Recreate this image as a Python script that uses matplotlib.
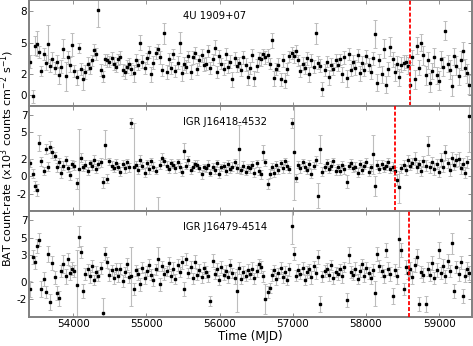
import numpy as np
import matplotlib
matplotlib.use("Agg")
import matplotlib.pyplot as plt

plt.rcParams["font.family"] = "DejaVu Sans"
plt.rcParams["axes.unicode_minus"] = False

# 30-day bins (MJD)
mjd = np.arange(53415, 59416, 30)

names = ["4U 1909+07", "IGR J16418-4532", "IGR J16479-4514"]
outburst_mjd = [58600, 58400, 58590]  # red dashed markers

# 4U 1909+07
rate_1909 = [
    3.2, -0.1, 4.7, 4.9, 4.1, 2.3, 3.9, 3.1, 4.9, 2.8, 3.4, 2.6, 3.2, 1.9, 2.7, 4.4, 1.8, 3.6, 2.9, 4.8,
    2.3, 1.7, 4.5, 2.5, 1.5, 2.2, 3.0, 2.6, 3.3, 4.3, 3.9, 8.1, 2.4, 1.8, 3.4, 3.3, 3.2, 3.5, 3.0, 2.7,
    3.4, 3.6, 2.4, 2.2, 2.7, 3.0, 2.5, 2.1, 3.3, 2.9, 5.0, 3.2, 2.6, 3.5, 4.1, 2.0, 3.1, 4.0, 4.4, 3.6,
    2.4, 5.9, 2.2, 3.4, 2.6, 3.9, 2.3, 3.1, 5.0, 2.1, 3.0, 2.7, 3.7, 2.2, 3.6, 4.0, 2.5, 3.3, 3.8, 2.9,
    3.0, 4.2, 2.6, 3.4, 4.5, 2.2, 3.7, 3.0, 2.5, 3.9, 2.7, 3.2, 1.5, 3.5, 2.8, 3.1, 2.4, 3.6, 2.9, 1.7,
    2.6, 3.8, 1.6, 2.8, 3.5, 3.4, 3.9, 3.6, 3.8, 3.0, 5.2, 1.6, 2.5, 2.9, 1.5, 3.3, 1.4, 2.5, 3.7, 4.0,
    3.7, 4.2, 3.3, 2.3, 3.0, 2.6, 3.5, 2.0, 3.3, 2.7, 5.9, 3.1, 2.8, 0.6, 2.4, 3.2, 1.7, 2.9, 2.5, 3.3,
    2.9, 3.4, 2.0, 3.6, 1.6, 3.9, 2.4, 3.2, 2.6, 3.8, 2.1, 3.1, 2.4, 3.7, 2.9, 2.2, 3.5, 5.8, 1.2, 3.3,
    2.0, 4.4, 1.0, 2.5, 4.6, 3.4, 2.2, 3.0, 1.7, 2.9, 3.1, 3.2, 2.8, 1.0, 3.6, 1.5, 4.7, 2.6, 5.0, 3.8,
    1.9, 3.3, 1.2, 2.3, 3.6, 1.9, 1.4, 3.4, 2.7, 6.1, 3.0, 2.4, 0.9, 3.7, 2.8, 1.8, 3.3, 4.2, 2.6, 2.1,
    1.0,
]
err_1909 = [
    0.6, 0.6, 0.9, 1.2, 0.6, 0.5, 0.6, 0.7, 1.8, 0.6, 0.7, 0.6, 0.6, 0.8, 0.6, 0.9, 1.4, 0.6, 0.7, 1.1,
    0.6, 0.7, 0.5, 0.6, 1.0, 0.7, 0.6, 0.6, 0.5, 0.6, 0.6, 1.6, 0.6, 0.5, 0.5, 0.6, 0.5, 0.6, 0.6, 0.5,
    0.5, 0.6, 0.6, 0.7, 0.6, 0.5, 0.6, 0.8, 0.6, 0.5, 0.7, 0.6, 0.6, 0.5, 0.6, 0.7, 0.6, 0.6, 0.5, 0.6,
    0.6, 1.0, 0.7, 0.6, 0.6, 0.5, 0.6, 0.6, 1.0, 0.7, 0.6, 0.6, 0.5, 0.7, 0.6, 0.6, 0.6, 0.5, 0.6, 0.6,
    0.6, 0.6, 0.6, 0.5, 0.7, 0.6, 0.6, 0.5, 0.6, 0.6, 0.6, 0.6, 0.7, 0.6, 0.6, 0.5, 0.6, 0.6, 0.6, 0.7,
    0.6, 0.6, 0.7, 0.6, 0.6, 0.6, 0.5, 0.6, 0.6, 0.5, 0.7, 0.7, 0.6, 0.6, 0.6, 0.6, 0.7, 0.6, 0.5, 0.6,
    0.6, 0.6, 0.5, 0.6, 0.6, 0.6, 0.6, 0.7, 0.6, 0.6, 1.0, 0.6, 0.6, 0.7, 0.6, 0.5, 0.7, 0.6, 0.6, 0.6,
    0.6, 0.5, 0.7, 0.6, 0.8, 0.6, 0.6, 0.6, 0.7, 0.6, 0.7, 0.6, 0.6, 0.6, 0.6, 0.7, 0.6, 1.3, 0.8, 0.6,
    0.8, 0.9, 0.8, 0.7, 0.9, 0.7, 0.8, 0.7, 0.8, 0.7, 0.7, 0.6, 0.8, 2.2, 0.7, 0.9, 0.8, 0.7, 0.8, 0.9,
    0.9, 0.8, 0.9, 0.8, 0.9, 0.8, 0.9, 0.8, 0.9, 0.9, 0.8, 0.9, 1.0, 0.8, 0.9, 0.8, 0.9, 0.9, 0.8, 0.9,
    0.9,
]

# IGR J16418-4532
rate_16418 = [
    1.5, 0.3, -1.1, -1.6, 3.8, 1.7, 0.6, 3.1, 1.1, 3.3, 2.7, 2.3, 1.0, 1.6, 0.4, 1.2, 1.8, 0.9, 0.1, 1.4,
    1.2, -0.8, 0.8, 2.1, 1.0, 1.3, 0.6, 1.5, 1.2, 1.9, 0.8, 1.4, 1.6, -0.7, 3.6, -0.3, 1.7, 1.2, 0.9, 1.5,
    1.1, 0.5, 1.4, 0.9, 1.6, 1.0, 6.05, 1.0, 1.3, 0.7, 1.9, 1.2, 0.4, 1.5, 0.8, 1.7, 1.1, 0.6, -4.6, 1.3,
    2.1, 1.7, 1.2, 0.8, 1.5, 1.3, 0.9, 1.6, 1.0, 0.5, 2.9, 1.2, 1.8, 0.7, 1.1, 1.4, 1.3, 0.9, 0.2, 1.0,
    0.9, 1.3, 0.4, 1.1, 0.7, 1.5, 0.3, 1.0, 1.2, 0.6, 1.4, 0.8, 1.1, 1.6, 0.9, 3.1, 0.7, 1.2, 0.5, 1.0,
    0.9, 1.3, 0.4, 1.5, 0.6, 0.2, 2.7, 1.6, -0.9, 0.3, 1.1, 0.4, 1.3, 0.7, 1.5, 0.9, 1.7, 1.2, 0.8, 6.05,
    2.7, -0.2, 1.3, 0.9, 1.6, 1.1, 0.7, 1.4, 0.3, 1.2, 1.8, -2.2, 3.1, 0.5, 1.0, 1.5, 0.8, 1.2, 1.7, 0.6,
    1.0, 0.6, 1.3, 0.8, -0.6, 1.2, 1.5, 0.9, 1.1, 0.4, 1.4, 0.7, 1.2, 1.6, 0.5, 1.0, 2.5, -1.1, 1.3, 0.8,
    1.4, 0.9, 1.2, 1.6, 0.8, 1.1, 0.6, -0.4, -1.2, 0.9, 1.3, 0.7, 1.8, 1.2, 1.5, 2.0, 1.0, 1.4, 0.6, 1.7,
    1.2, 3.5, 1.0, 1.6, 0.8, 1.4, 0.5, 1.9, 1.1, 2.7, 1.5, 0.7, 2.1, 1.3, 1.8, 2.0, 0.9, 1.4, 0.4, 1.6,
    6.8,
]
err_16418 = [
    0.5, 0.5, 0.6, 0.7, 0.9, 0.5, 0.5, 0.6, 0.5, 0.7, 0.6, 0.5, 0.5, 0.5, 0.6, 0.5, 0.5, 0.4, 0.5, 0.5,
    0.5, 0.6, 4.6, 0.5, 0.4, 0.5, 0.5, 0.4, 0.5, 0.5, 0.4, 0.5, 0.5, 0.6, 1.6, 0.5, 0.4, 0.5, 0.4, 0.5,
    0.4, 0.5, 0.4, 0.5, 0.4, 0.5, 0.6, 5.0, 0.4, 0.5, 0.5, 0.4, 0.5, 0.4, 0.5, 0.4, 0.5, 0.4, 2.2, 0.5,
    0.5, 0.4, 0.5, 0.4, 0.5, 0.4, 0.5, 0.4, 0.5, 0.5, 0.9, 0.4, 0.5, 0.4, 0.5, 0.4, 0.5, 0.4, 0.5, 0.4,
    0.4, 0.5, 0.4, 0.4, 0.5, 0.4, 0.5, 0.4, 0.4, 0.5, 0.4, 0.4, 0.5, 0.4, 0.5, 2.7, 0.4, 0.5, 0.4, 0.4,
    0.5, 0.4, 0.5, 0.4, 0.5, 0.5, 0.8, 0.4, 0.6, 0.5, 0.4, 0.5, 0.4, 0.5, 0.4, 0.5, 0.4, 0.5, 0.4, 0.6,
    5.4, 0.5, 0.4, 0.5, 0.4, 0.5, 0.4, 0.5, 0.5, 0.4, 0.5, 1.4, 1.6, 0.5, 0.4, 0.5, 0.4, 0.5, 0.4, 0.5,
    0.4, 0.5, 0.4, 0.5, 0.7, 0.4, 0.5, 0.4, 0.5, 0.5, 0.4, 0.5, 0.4, 0.5, 0.5, 0.4, 2.2, 1.1, 0.5, 0.4,
    0.5, 0.4, 0.5, 0.5, 0.4, 0.5, 0.5, 0.6, 1.8, 0.5, 0.5, 0.6, 0.6, 0.5, 0.6, 0.7, 0.6, 0.5, 0.6, 0.6,
    0.6, 1.1, 0.6, 0.6, 0.7, 0.6, 0.6, 0.7, 0.6, 0.8, 0.6, 0.7, 0.7, 0.6, 0.7, 0.8, 0.6, 0.7, 0.6, 0.7,
    4.1,
]

# IGR J16479-4514
rate_16479 = [
    -0.8, 2.8, 2.2, 4.1, 4.8, -0.8, 0.3, -1.2, 3.2, -2.3, 2.1, 0.5, -1.3, -1.9, 1.2, 2.0, 0.6, 2.6, 1.0, 1.5,
    1.2, -0.4, 5.1, 3.4, -1.1, 0.9, 1.4, 0.6, 1.8, 0.2, 1.1, 0.7, 1.6, -3.5, 3.2, 2.2, 0.8, 1.3, 0.4, 1.5,
    0.7, 1.5, 0.1, 1.1, 2.0, 0.5, 0.6, -0.8, 1.3, 0.9, -0.3, 1.6, 0.4, 1.2, 1.9, 0.8, 0.2, 1.4, 2.6, -0.3,
    1.8, 0.9, 1.2, 2.1, 0.6, 1.5, 0.3, 1.9, 1.1, 2.2, -0.8, 2.6, 1.0, 1.7, 0.4, 2.3, 0.8, 1.3, 0.5, 1.6,
    1.1, 0.6, -2.2, 2.4, 0.9, 1.4, 0.2, 1.7, 0.8, 1.2, 0.5, 1.9, 1.0, 0.4, -1.0, 1.6, 0.3, 1.1, 0.7, 1.3,
    0.9, 1.5, 0.4, 1.2, 2.0, 1.7, 0.6, -2.0, -1.2, -0.7, 0.8, 1.3, 0.3, 1.0, 1.6, 0.5, 1.1, 0.2, 1.4, 6.3,
    3.2, 0.7, 1.3, 0.9, 1.6, 0.2, 1.1, 1.4, 0.5, 1.8, 1.0, 2.8, -2.5, 0.6, 1.2, 1.5, 0.8, 1.9, 0.4, 1.1,
    0.9, 1.4, 0.6, 1.7, -2.1, 3.0, 1.1, 0.8, 1.5, 0.3, 1.2, 2.0, 0.7, 1.6, 1.0, 0.4, 1.3, -1.3, 3.2, 1.8,
    1.2, 0.7, 3.6, 1.5, 0.9, -1.6, 1.3, 0.6, 4.9, 3.6, -0.8, 1.7, 1.0, 1.4, 0.5, 1.9, 2.8, -2.5, 1.1, 0.8,
    -2.5, 1.5, 0.8, 2.1, 0.4, 1.3, 3.6, 1.0, 1.8, 0.6, 2.4, 1.2, 4.4, -1.1, 1.7, 0.9, 2.2, -1.6, 0.7, 1.4,
    1.0,
]
err_16479 = [
    0.9, 0.8, 0.7, 0.8, 0.7, 0.9, 0.8, 0.7, 0.9, 0.9, 0.8, 0.7, 0.8, 0.8, 0.7, 1.0, 0.8, 0.7, 0.8, 0.7,
    0.7, 4.0, 1.2, 0.7, 0.8, 0.7, 0.6, 0.7, 0.7, 0.6, 0.7, 0.6, 0.7, 1.7, 0.7, 0.6, 0.7, 0.6, 0.7, 0.6,
    0.7, 0.6, 0.7, 0.6, 0.7, 0.6, 3.3, 0.7, 0.6, 0.7, 0.7, 0.6, 0.7, 0.6, 0.7, 0.6, 0.7, 0.6, 1.4, 0.7,
    0.6, 0.7, 0.6, 0.7, 0.6, 0.7, 0.6, 0.7, 0.6, 0.7, 0.8, 0.7, 0.6, 0.7, 0.6, 0.7, 0.6, 0.7, 0.6, 0.7,
    0.7, 0.6, 0.6, 0.7, 0.6, 0.7, 0.6, 0.7, 0.6, 0.7, 0.6, 0.7, 0.6, 0.7, 2.4, 0.7, 0.6, 0.7, 0.6, 0.7,
    0.6, 0.7, 0.6, 0.7, 0.6, 0.7, 0.6, 1.7, 0.7, 0.6, 0.7, 0.6, 0.7, 0.6, 0.7, 0.6, 0.7, 0.6, 0.7, 2.0,
    0.7, 0.6, 0.7, 0.6, 0.7, 0.6, 0.7, 0.6, 0.7, 0.6, 0.7, 0.8, 0.9, 0.6, 0.7, 0.6, 0.7, 0.6, 0.7, 0.6,
    0.7, 0.6, 0.7, 0.6, 0.8, 0.9, 0.7, 0.6, 0.7, 0.6, 0.7, 0.6, 0.7, 0.6, 0.7, 0.6, 0.7, 1.4, 0.8, 0.7,
    0.7, 0.8, 0.8, 0.7, 0.8, 0.9, 0.7, 0.8, 3.2, 0.8, 0.7, 0.8, 0.7, 0.8, 0.7, 0.8, 0.9, 0.8, 0.7, 0.8,
    0.9, 0.8, 0.7, 0.8, 0.7, 0.8, 0.9, 0.7, 0.8, 0.7, 0.8, 0.7, 1.2, 0.8, 0.7, 0.8, 0.7, 0.8, 0.7, 0.8,
    0.8,
]

rates = [rate_1909, rate_16418, rate_16479]
errs = [err_1909, err_16418, err_16479]
ylims = [(-1, 9), (-4, 8), (-4, 8)]
yticks = [[0, 2, 5, 8], [-2, 0, 2, 5, 7], [-2, 0, 3, 5, 7]]

fig = plt.figure(figsize=(4.73, 3.46), dpi=100)
gs = fig.add_gridspec(3, 1, left=0.062, right=0.998, top=0.999, bottom=0.084, hspace=0)

frame_col = "#808080"
axes = []
for i in range(3):
    ax = fig.add_subplot(gs[i], sharex=axes[0] if axes else None)
    axes.append(ax)
    ax.errorbar(mjd, rates[i], yerr=errs[i], fmt="s", ms=1.5, mfc="black", mec="black",
                ecolor="#bdbdbd", elinewidth=0.8, capsize=1.5, capthick=0.7, zorder=2)
    ax.axvline(outburst_mjd[i], color="red", lw=1.3, ls=(0, (2.2, 1.1)), zorder=3)
    ax.set_ylim(*ylims[i])
    ax.set_yticks(yticks[i])
    ax.text(0.347, 0.85, names[i], transform=ax.transAxes, ha="left", va="center", fontsize=7.2)
    for s in ax.spines.values():
        s.set_color(frame_col)
        s.set_linewidth(1.4)
    ax.tick_params(direction="in", top=True, right=True, length=3, width=0.6,
                   color=frame_col, labelsize=7.5, pad=1.5)
    if i < 2:
        ax.tick_params(labelbottom=False)

axes[0].set_xlim(53400, 59450)
axes[0].set_xticks([54000, 55000, 56000, 57000, 58000, 59000])
axes[2].set_xlabel("Time (MJD)", fontsize=8.5, labelpad=1)
fig.text(0.016, 0.542, r"BAT count-rate (x10$^3$ counts cm$^{-2}$ s$^{-1}$)",
         rotation=90, ha="center", va="center", fontsize=8.0)

fig.savefig("out.png", dpi=100)
